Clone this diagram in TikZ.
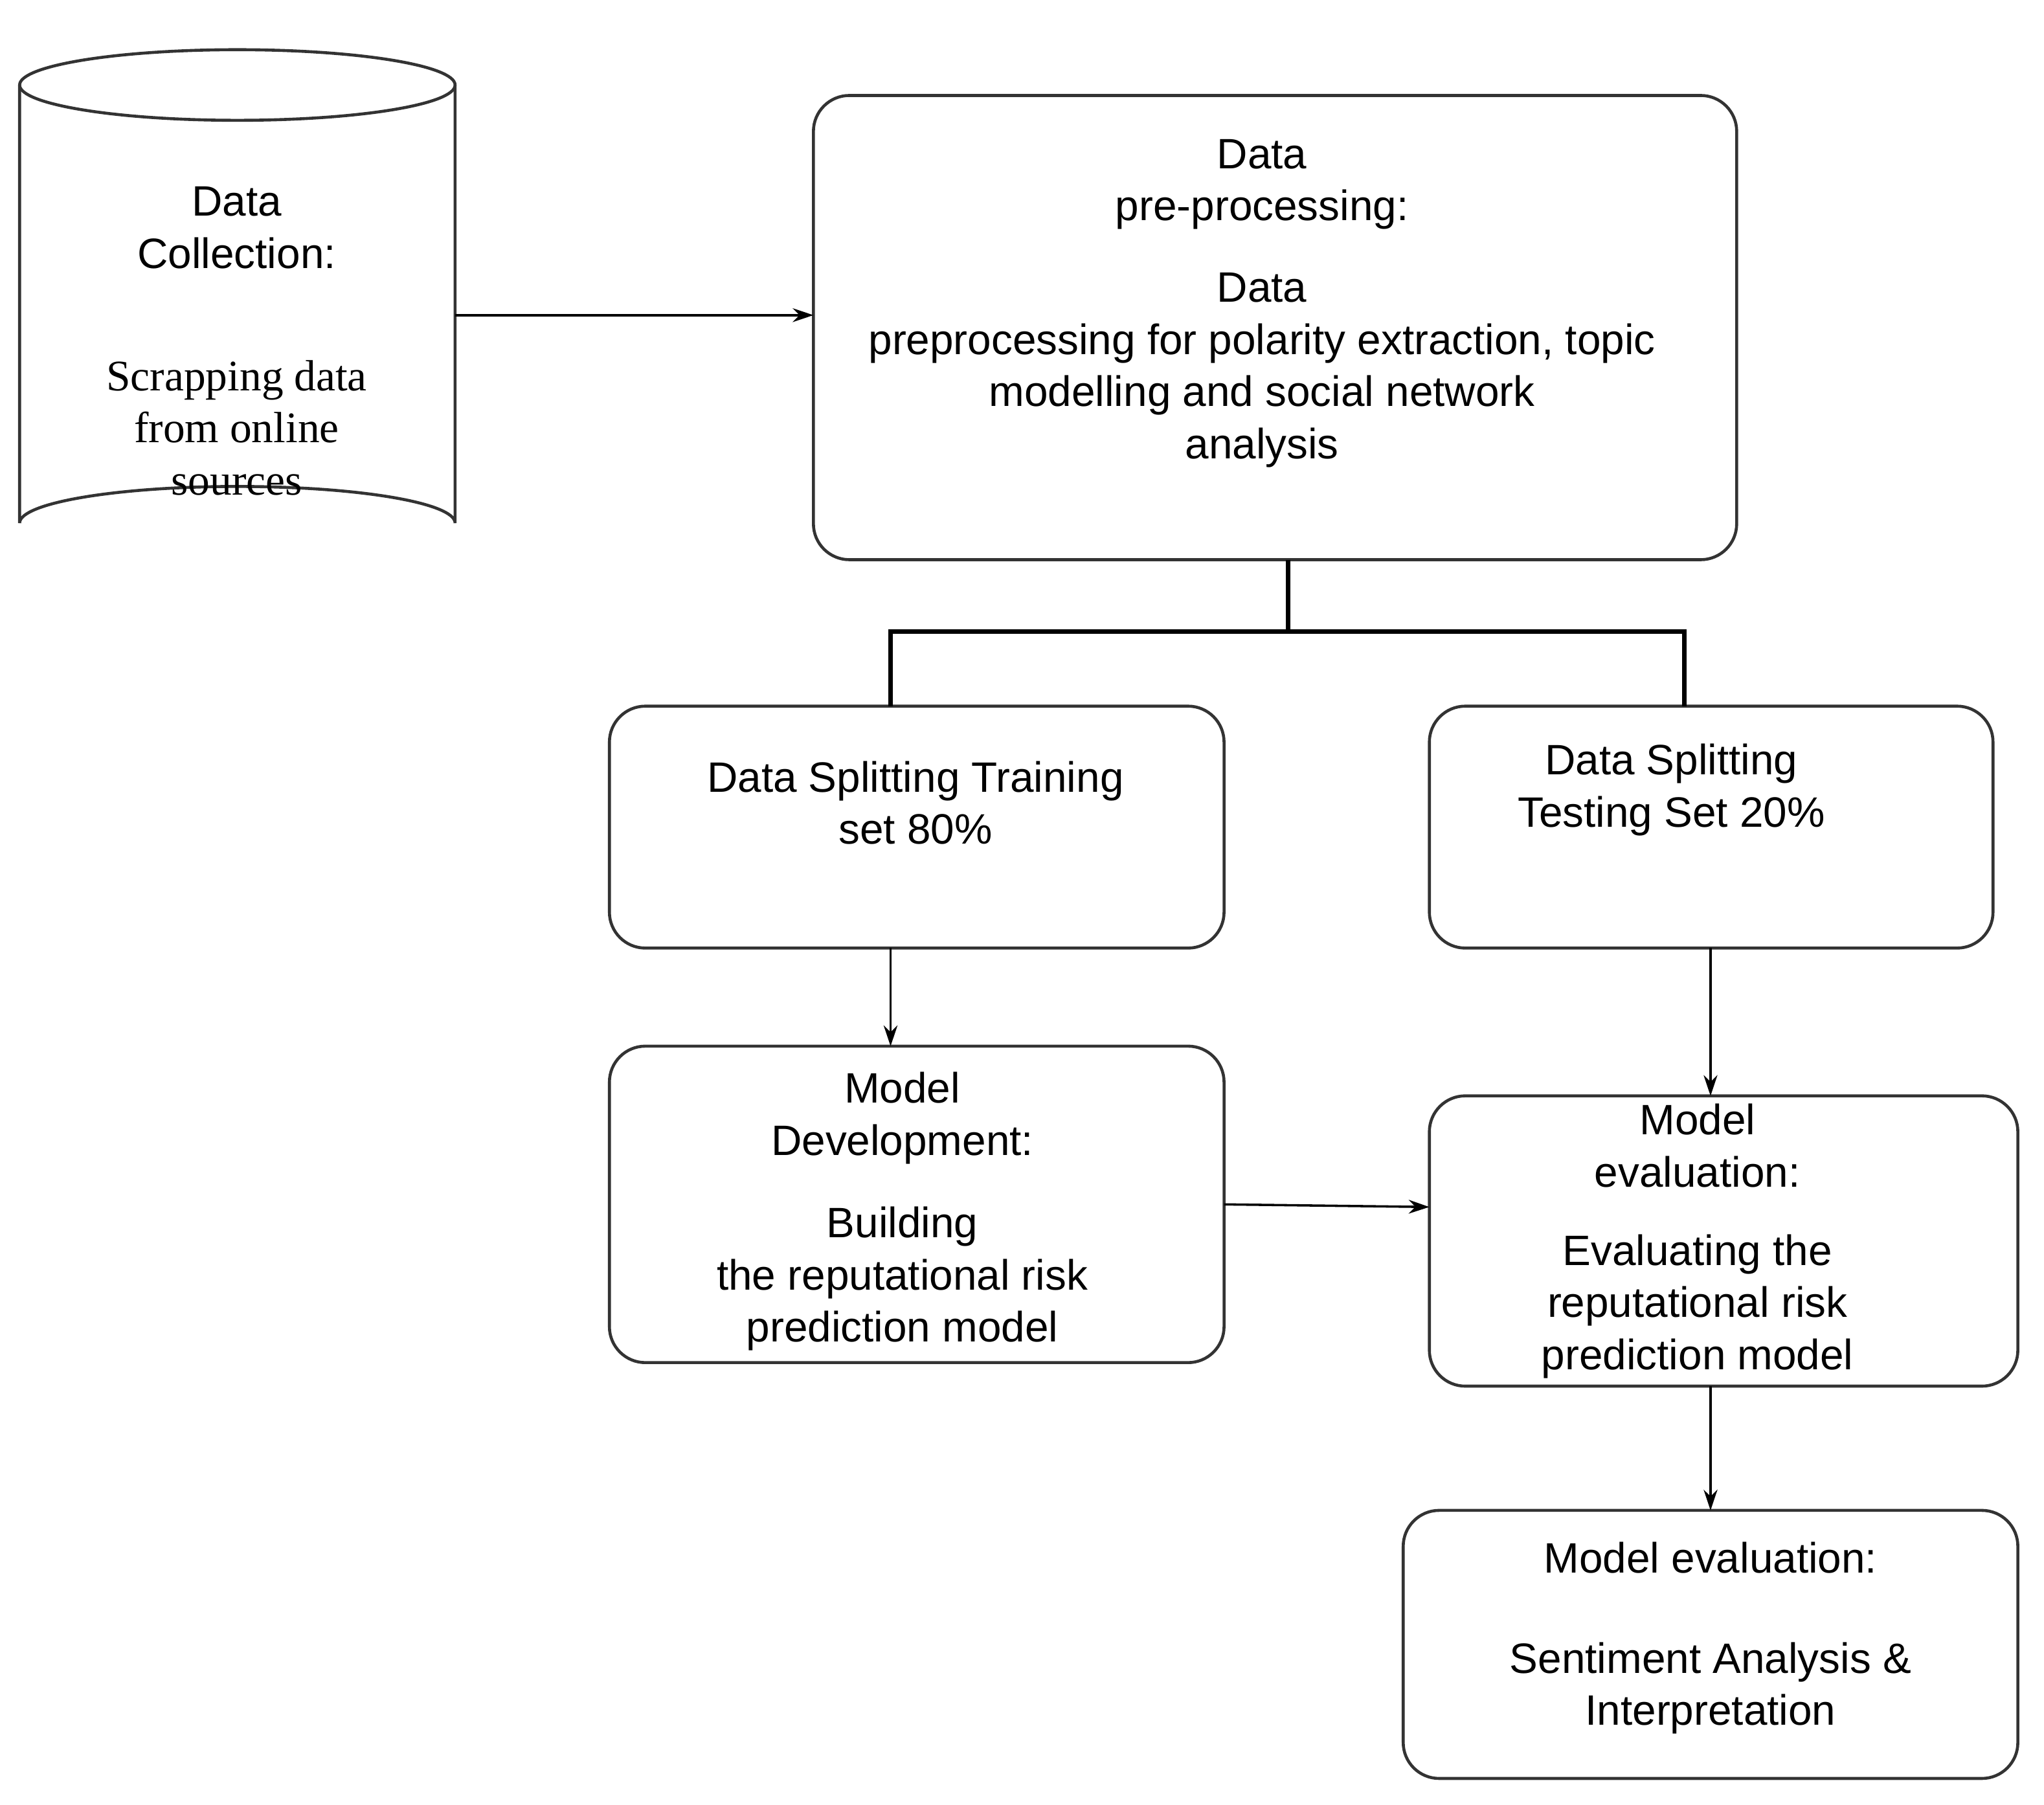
\documentclass[tikz,border=0pt]{standalone}
\usepackage{fontspec}
\setmainfont{Liberation Sans}
\newfontfamily\serifx{Liberation Serif}
\usetikzlibrary{shapes.geometric,arrows.meta}
\begin{document}
\begin{tikzpicture}[x=0.02cm,y=-0.02cm,
  box/.style={draw=black!80,line width=1.3pt,rounded corners=0.55cm},
  t/.style={font=\fontsize{18.5}{22.7}\selectfont,align=center,inner sep=0},
  s/.style={font=\serifx\fontsize{19}{22.7}\selectfont,align=center,inner sep=0},
  arr/.style={-{Stealth[length=9pt,width=6pt]},line width=1pt}]
\useasboundingbox (0,0) rectangle (1563,1380);
% cylinder
\draw[line width=1.3pt,black!80] (15,65) -- (15,400) arc[start angle=180,end angle=360,x radius=166.5,y radius=28] -- (348,65);
\draw[line width=1.3pt,black!80] (181.5,65) ellipse[x radius=166.5,y radius=27];
\coordinate (cylR) at (348,241);
\node[t] (c1) at (181,174) {Data\\Collection:};
\node[s] (c2) at (181,327) {Scrapping data\\from online\\sources};
% boxes
\draw[box] (622,73) rectangle (1328,428);
\node[inner sep=0] (b1) at (975,250.5) {};
\coordinate (b1L) at (622,241);
\coordinate (b1B) at (985,428);
\node[t] (b1t) at (965,141) {Data\\pre-processing:};
\node[t] (b1u) at (965,283) {Data\\preprocessing for polarity extraction, topic\\modelling and social network\\analysis};
\draw[box] (466,540) rectangle (936,725);
\node[t] (b2t) at (700,614) {Data Splitting Training\\set 80\%};
\draw[box] (1093,540) rectangle (1524,725);
\node[t] (b3t) at (1278,604) {Data Splitting\\Testing Set 20\%};
\draw[box] (466,800) rectangle (936,1042);
\node[t] (b4t) at (690,855) {Model\\Development:};
\node[t] (b4u) at (690,978) {Building\\the reputational risk\\prediction model};
\draw[box] (1093,838) rectangle (1543,1060);
\node[t] (b5t) at (1298,876) {Model\\evaluation:};
\node[t] (b5u) at (1298,999) {Evaluating the\\reputational risk\\prediction model};
\draw[box] (1073,1155) rectangle (1543,1360);
\node[t] (b6t) at (1308,1191) {Model evaluation:};
\node[t] (b6u) at (1308,1291) {Sentiment Analysis \&\\Interpretation};
% connectors
\draw[arr] (cylR) -- (b1L);
\draw[line width=2.2pt] (b1B) -- (985,483) -- (681,483) -- (681,540);
\draw[line width=2.2pt] (985,483) -- (1288,483) -- (1288,540);
\draw[arr] (681,725) -- (681,800);
\draw[arr] (1308,725) -- (1308,838);
\draw[arr] (936,921) -- (1093,923);
\draw[arr] (1308,1060) -- (1308,1155);
\end{tikzpicture}
\end{document}
